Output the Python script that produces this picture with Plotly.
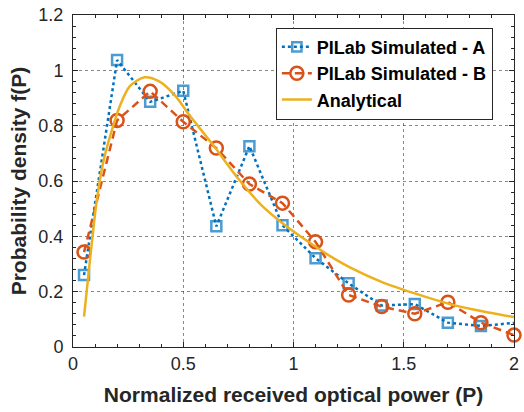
import plotly.graph_objects as go

# ---- data ----
x_sim = [0.05, 0.2, 0.35, 0.5, 0.65, 0.8, 0.95, 1.1, 1.25, 1.4, 1.55, 1.7, 1.85, 2.0]
sim_a = [0.26, 1.037, 0.886, 0.926, 0.436, 0.726, 0.44, 0.321, 0.23, 0.15, 0.155, 0.088, 0.076, 0.087]
sim_b = [0.343, 0.819, 0.924, 0.814, 0.719, 0.589, 0.52, 0.38, 0.188, 0.146, 0.12, 0.162, 0.088, 0.043]

x_an = [0.05, 0.078, 0.107, 0.137, 0.175, 0.212, 0.257, 0.324, 0.391, 0.466, 0.526, 0.638,
        0.75, 0.854, 0.959, 1.064, 1.153, 1.258, 1.407, 1.557, 1.706, 1.856, 2.0]
y_an = [0.11, 0.322, 0.525, 0.668, 0.78, 0.87, 0.942, 0.975, 0.96, 0.906, 0.84, 0.727,
        0.608, 0.513, 0.442, 0.382, 0.335, 0.287, 0.233, 0.192, 0.156, 0.129, 0.108]

x_ticks = [0, 0.5, 1, 1.5, 2]
x_labels = ["0", "0.5", "1", "1.5", "2"]
y_ticks = [0, 0.2, 0.4, 0.6, 0.8, 1.0, 1.2]
y_labels = ["0", "0.2", "0.4", "0.6", "0.8", "1", "1.2"]

BLUE = "#0072BD"
ORANGE = "#D95319"
YELLOW = "#EDB120"
AX = "#262626"
FONT = "Liberation Sans, Arial, Helvetica, sans-serif"

# series A has no marker drawn at the right edge
a_sizes = [10] * (len(x_sim) - 1) + [0]

fig = go.Figure()
fig.add_trace(go.Scatter(
    x=x_sim, y=sim_a, name="PILab Simulated - A", mode="lines+markers",
    line=dict(color=BLUE, width=2.5, dash="dot"),
    marker=dict(symbol="square-open", size=a_sizes, color=BLUE, line=dict(width=2.5, color=BLUE)),
    cliponaxis=False,
))
fig.add_trace(go.Scatter(
    x=x_sim, y=sim_b, name="PILab Simulated - B", mode="lines+markers",
    line=dict(color=ORANGE, width=2.5, dash="8px,5px"),
    marker=dict(symbol="circle-open", size=13, color=ORANGE, line=dict(width=2.5, color=ORANGE)),
    cliponaxis=False,
))
fig.add_trace(go.Scatter(
    x=x_an, y=y_an, name="Analytical", mode="lines",
    line=dict(color=YELLOW, width=2.5, shape="spline", smoothing=0.8),
))

axis_common = dict(
    showline=True, linecolor=AX, linewidth=1, mirror="ticks",
    ticks="inside", ticklen=5, tickcolor=AX, tickwidth=1,
    showgrid=True, gridcolor="rgba(38,38,38,0.55)", griddash="dot", gridwidth=1,
    zeroline=False,
    tickfont=dict(family=FONT, size=18, color=AX),
    minor=dict(ticks="inside", ticklen=3, tickcolor=AX, showgrid=False),
)

fig.update_xaxes(
    range=[0, 2], tickvals=x_ticks, ticktext=x_labels,
    title=dict(text="<b>Normalized received optical power (P)</b>",
               font=dict(family=FONT, size=21, color=AX), standoff=14),
    **axis_common,
)
fig.update_yaxes(
    range=[0, 1.2], tickvals=y_ticks, ticktext=y_labels, ticklabelstandoff=5,
    title=dict(text="<b>Probability density f(P)</b>",
               font=dict(family=FONT, size=21, color=AX), standoff=6),
    **axis_common,
)
fig.update_xaxes(minor=dict(dtick=0.1))
fig.update_yaxes(minor=dict(dtick=0.04))

fig.update_layout(
    width=524, height=412,
    margin=dict(l=73, r=5, t=11, b=65),
    paper_bgcolor="white", plot_bgcolor="white",
    font=dict(family=FONT, color=AX),
    showlegend=True,
    legend=dict(
        x=0.460, y=0.962, xanchor="left", yanchor="top",
        bgcolor="white", bordercolor=AX, borderwidth=1,
        font=dict(family=FONT, size=18, color="black", weight="bold"),
        tracegroupgap=0, itemwidth=30,
    ),
)

fig.write_html("out.html")
